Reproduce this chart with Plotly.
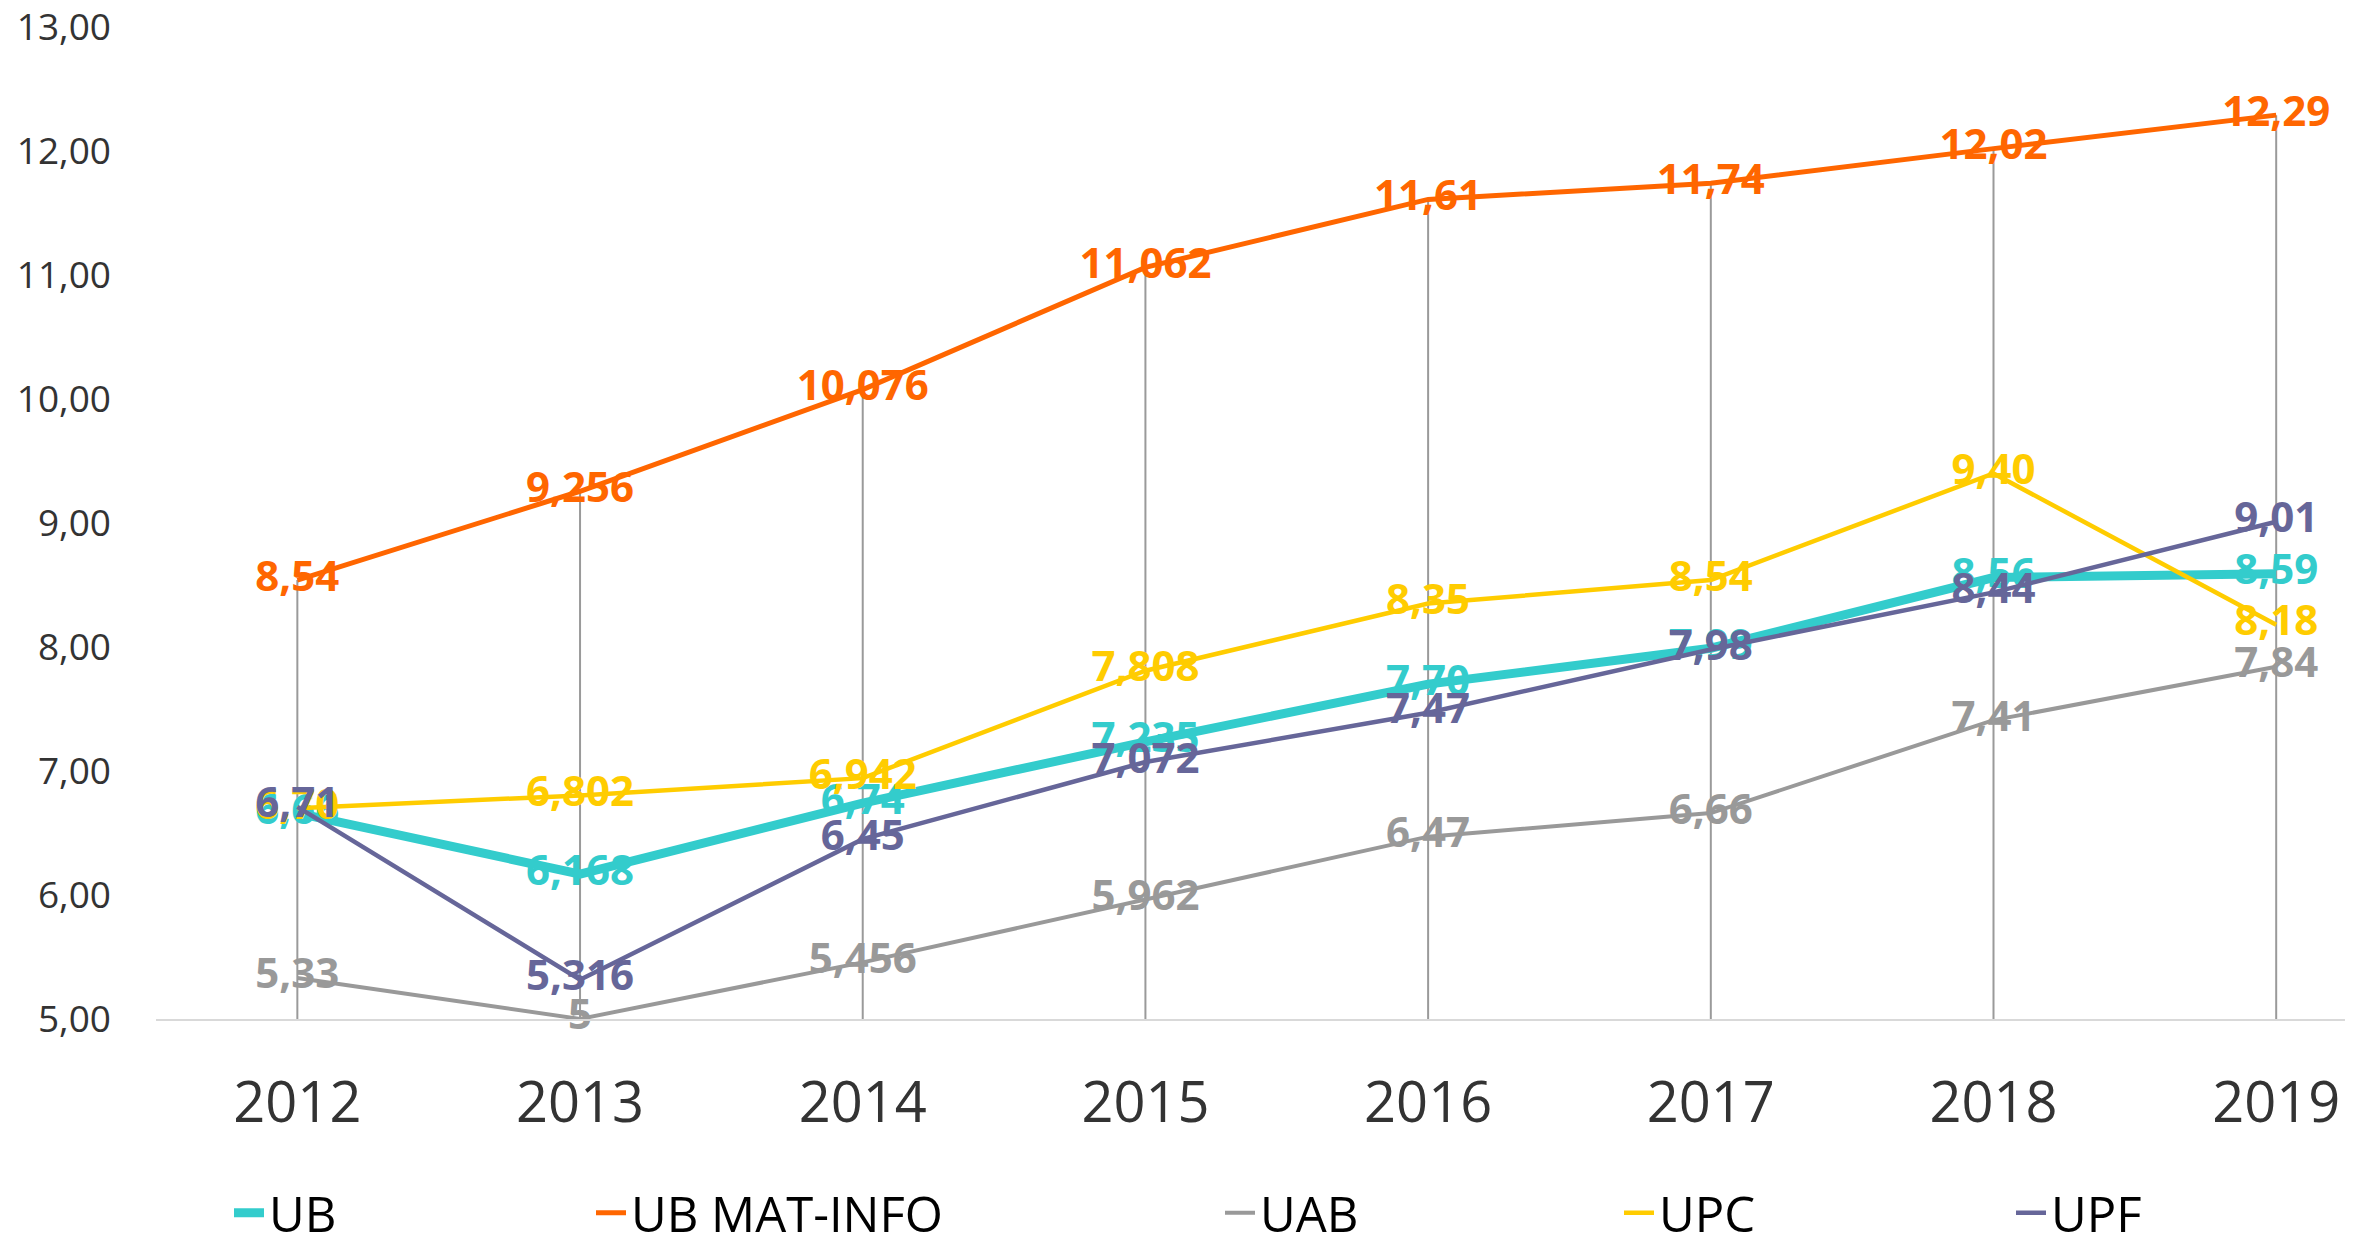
import plotly.graph_objects as go

years = [2012, 2013, 2014, 2015, 2016, 2017, 2018, 2019]
year_labels = ["2012", "2013", "2014", "2015", "2016", "2017", "2018", "2019"]

ub = [6.66, 6.168, 6.74, 7.235, 7.70, 7.99, 8.56, 8.59]
ub_txt = ["6,66", "6,168", "6,74", "7,235", "7,70", "7,99", "8,56", "8,59"]
ub_mat = [8.54, 9.256, 10.076, 11.062, 11.61, 11.74, 12.02, 12.29]
ub_mat_txt = ["8,54", "9,256", "10,076", "11,062", "11,61", "11,74", "12,02", "12,29"]
uab = [5.33, 5.0, 5.456, 5.962, 6.47, 6.66, 7.41, 7.84]
uab_txt = ["5,33", "5", "5,456", "5,962", "6,47", "6,66", "7,41", "7,84"]
upc = [6.70, 6.802, 6.942, 7.808, 8.35, 8.54, 9.40, 8.18]
upc_txt = ["6,70", "6,802", "6,942", "7,808", "8,35", "8,54", "9,40", "8,18"]
upf = [6.71, 5.316, 6.45, 7.072, 7.47, 7.98, 8.44, 9.01]
upf_txt = ["6,71", "5,316", "6,45", "7,072", "7,47", "7,98", "8,44", "9,01"]

y_ticks = [5, 6, 7, 8, 9, 10, 11, 12, 13]
y_min = 5

series = [
    ("UB", ub, ub_txt, "#33CCCC", 9, 277),
    ("UB MAT-INFO", ub_mat, ub_mat_txt, "#FF6600", 5, 639),
    ("UAB", uab, uab_txt, "#999999", 4, 1268),
    ("UPC", upc, upc_txt, "#FFCC00", 4.5, 1667),
    ("UPF", upf, upf_txt, "#666699", 4.5, 2059),
]

W, H = 2353, 1240
fig = go.Figure()

# drop lines from the highest series down to the axis
top = [max(vals) for vals in zip(ub, ub_mat, uab, upc, upf)]
dx, dy = [], []
for x, t in zip(years, top):
    dx += [x, x, None]
    dy += [y_min, t, None]
fig.add_trace(go.Scatter(x=dx, y=dy, mode="lines", line=dict(color="#9a9a9a", width=2),
                         showlegend=False, hoverinfo="skip"))

layout_legends = {}
for i, (name, vals, txt, color, width, tx) in enumerate(series):
    lg = "legend" if i == 0 else f"legend{i+1}"
    fig.add_trace(go.Scatter(
        x=years, y=vals, name=name, mode="lines+text", text=txt,
        textposition="middle center",
        textfont=dict(family="Open Sans", size=42, color=color, weight="bold"),
        line=dict(color=color, width=width),
        legend=lg, cliponaxis=False,
    ))
    layout_legends[lg] = dict(
        xref="container", yref="container", x=(tx - 56) / W, y=1 - 1205 / H,
        xanchor="left", yanchor="middle", orientation="h",
        font=dict(family="Open Sans", size=49, color="#000000"),
        bgcolor="rgba(0,0,0,0)", itemwidth=30,
    )

fig.update_layout(
    width=W, height=H,
    margin=dict(l=148, r=0, t=19, b=229, autoexpand=False),
    paper_bgcolor="white", plot_bgcolor="white",
    separators=",.",
    showlegend=True,
    **layout_legends,
)
fig.update_xaxes(
    range=[2011.5, 2019.30], tickvals=years, ticktext=year_labels,
    showgrid=False, zeroline=False, showline=True, linecolor="#d9d9d9", linewidth=2,
    ticks="", tickfont=dict(family="Open Sans", size=56, color="#333333"),
    ticklabelstandoff=34, automargin=False, ticklabeloverflow="allow",
)
fig.update_yaxes(
    range=[4.999, 13.001], tickvals=y_ticks, tickformat=".2f",
    showgrid=False, zeroline=False, showline=False, ticks="",
    tickfont=dict(family="Open Sans", size=37, color="#333333"),
    ticklabelstandoff=44, automargin=False, ticklabeloverflow="allow",
)

fig.write_html("out.html")
